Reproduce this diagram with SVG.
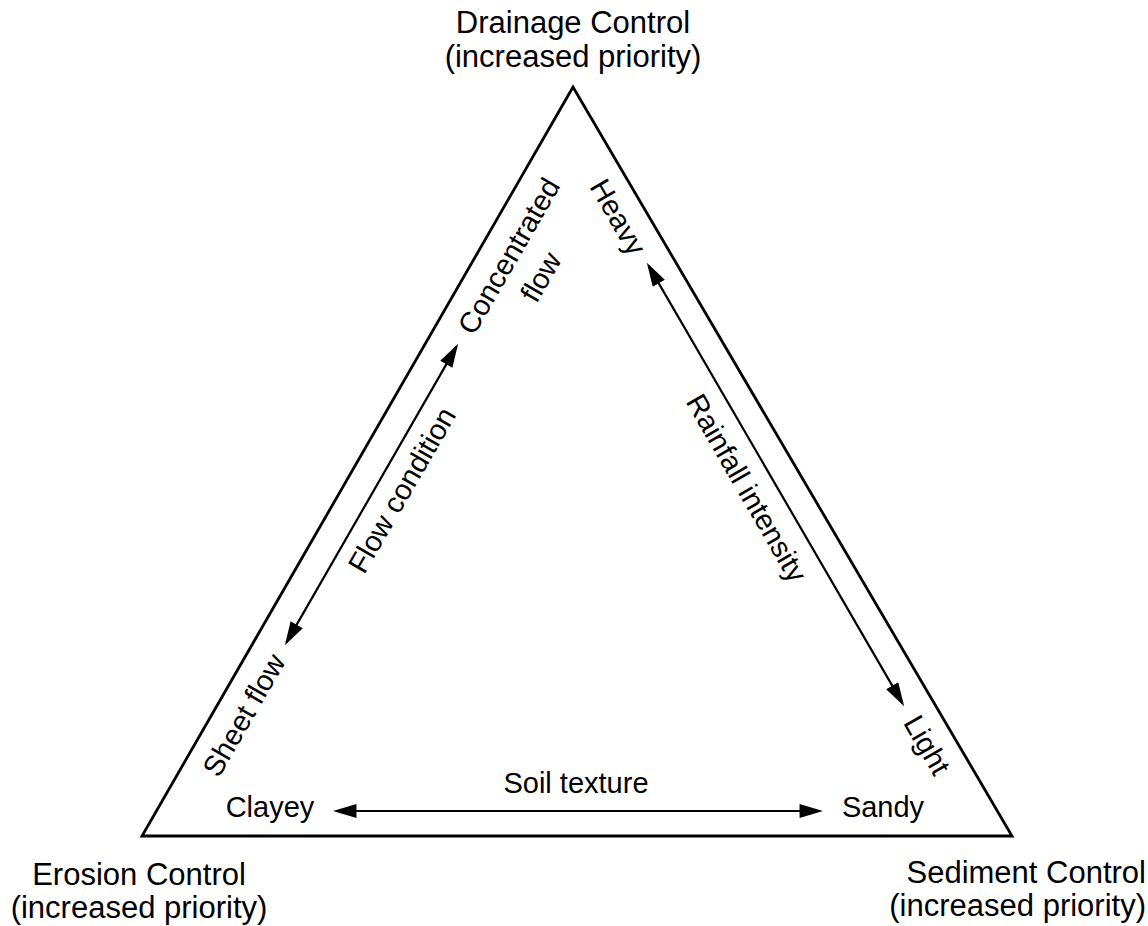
<svg xmlns="http://www.w3.org/2000/svg" width="1148" height="926" viewBox="0 0 1148 926">
<style>
text{font-family:"Liberation Sans",Arial,Helvetica,sans-serif;fill:#000}
.title{font-size:31px;text-anchor:middle}
.lbl{font-size:29px;text-anchor:middle}
.edge{fill:none;stroke:#000;stroke-width:2.8;stroke-linejoin:miter}
.arr{fill:none;stroke:#000;stroke-width:2.2;marker-start:url(#ah);marker-end:url(#ah)}
</style>
<defs>
<marker id="ah" markerUnits="userSpaceOnUse" markerWidth="24" markerHeight="14" refX="19" refY="6.5" orient="auto-start-reverse" viewBox="0 0 22 13">
<path d="M0,0 L22,6.5 L0,13 z" fill="#000"/>
</marker>
</defs>
<rect width="1148" height="926" fill="#fff"/>
<g id="triangle">
<polygon class="edge" points="573,87 142,836 1012,836"/>
</g>
<g id="drainage">
<text class="title" x="573" y="33">Drainage Control</text>
<text class="title" x="573" y="67">(increased priority)</text>
</g>
<g id="erosion">
<text class="title" x="139" y="885">Erosion Control</text>
<text class="title" x="139" y="918">(increased priority)</text>
</g>
<g id="sediment">
<text class="title" x="1146" y="883" style="text-anchor:end">Sediment Control</text>
<text class="title" x="1146" y="916" style="text-anchor:end">(increased priority)</text>
</g>
<g id="connectors">
<line class="arr" x1="456.5" y1="346.6" x2="286.5" y2="642.4"/>
<line class="arr" x1="648.5" y1="265.6" x2="902.5" y2="703.4"/>
<line class="arr" x1="336" y1="811" x2="820" y2="811"/>
</g>
<g id="labels">
<text class="lbl" transform="translate(517.5,261) rotate(-60)">Concentrated</text>
<text class="lbl" transform="translate(549.5,282) rotate(-60)">flow</text>
<text class="lbl" transform="translate(609.5,222) rotate(60)">Heavy</text>
<text class="lbl" transform="translate(410.5,495) rotate(-60)">Flow condition</text>
<text class="lbl" transform="translate(738,493) rotate(60)">Rainfall intensity</text>
<text class="lbl" transform="translate(252.5,720) rotate(-60)">Sheet flow</text>
<text class="lbl" transform="translate(918.5,750) rotate(60)">Light</text>
<text class="lbl" x="576" y="793">Soil texture</text>
<text class="lbl" x="270" y="817">Clayey</text>
<text class="lbl" x="883" y="817">Sandy</text>
</g>
</svg>
